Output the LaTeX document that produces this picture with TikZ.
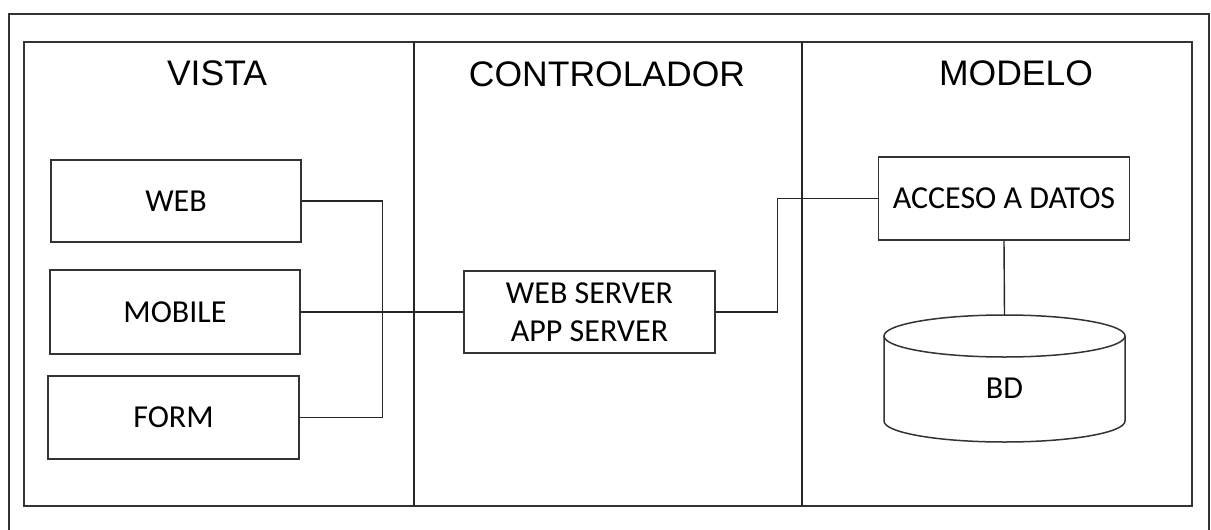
\documentclass[tikz,border=0pt]{standalone}
\usepackage{fontspec}
\setmainfont{Carlito}
\newfontfamily\titlefont{Liberation Sans}
\begin{document}
\begin{tikzpicture}[x=1pt,y=-1pt,
  frame/.style={draw=black!80, line width=1.6pt},
  colline/.style={draw=black!85, line width=1.4pt},
  box/.style={draw=black!80, line width=1.5pt, minimum width=250pt, minimum height=82pt, inner sep=0pt,
              font=\fontsize{32}{38}\selectfont, align=center, text=black},
  title/.style={font=\titlefont\fontsize{35.5}{40}\selectfont, text=black, inner sep=0pt},
  wire/.style={draw=black!85, line width=1.4pt}]
\useasboundingbox (0,0) rectangle (1211,530);
\fill[white] (0,0) rectangle (1211,530);
% outer frame (bottom cut off)
\draw[frame] (9,540) -- (9,14) -- (1209,14) -- (1209,540);
% inner frame
\draw[frame] (24,42) rectangle (1192,506);
\draw[colline] (414,42) -- (414,506);
\draw[colline] (802,42) -- (802,506);
% titles
\node[title] (tv) at (217,73) {VISTA};
\node[title] (tc) at (607,74) {CONTROLADOR};
\node[title] (tm) at (1016,73) {MODELO};
% boxes
\node[box] (WEB) at (176,201) {WEB};
\node[box, minimum height=84pt] (MOB) at (175,312) {MOBILE};
\node[box, minimum width=251pt, minimum height=83pt] (FORM) at (173.5,417.5) {FORM};
\node[box, minimum width=251pt] (WS) at (589.5,312) {WEB SERVER\\APP SERVER};
\node[box, minimum width=251pt, minimum height=83pt] (ACC) at (1004,198.5) {ACCESO A DATOS};
% cylinder BD
\draw[draw=black!80, line width=1.5pt, fill=white]
  (884,336) -- (884,421) arc[start angle=180, end angle=360, x radius=120.5pt, y radius=21pt]
  -- (1125,336);
\draw[draw=black!80, line width=1.5pt]
  (1004.5,336) ellipse[x radius=120.5pt, y radius=21pt];
\coordinate (BDtop) at (1004.5,315);
\node[font=\fontsize{32}{38}\selectfont, text=black, inner sep=0pt] (BD) at (1004.5,388) {BD};
% connectors
\draw[wire] (WEB.east) -- ++(81,0) |- (FORM.east);
\draw[wire] (MOB.east) -- (WS.west);
\draw[wire] (WS.east) -- ++(62,0) |- (ACC.west);
\draw[wire] (ACC.south) -- (BDtop);
\end{tikzpicture}
\end{document}
